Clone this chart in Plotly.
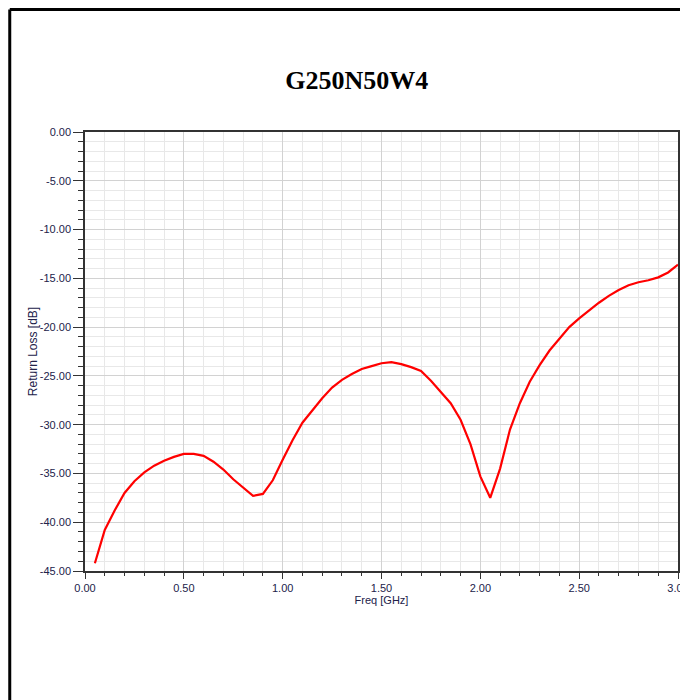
import plotly.graph_objects as go

# return loss sweep
freq = [0.05, 0.10, 0.15, 0.20, 0.25, 0.30, 0.35, 0.40, 0.45, 0.50,
        0.55, 0.60, 0.65, 0.70, 0.75, 0.80, 0.85, 0.90, 0.95, 1.00,
        1.05, 1.10, 1.15, 1.20, 1.25, 1.30, 1.35, 1.40, 1.45, 1.50,
        1.55, 1.60, 1.65, 1.70, 1.75, 1.80, 1.85, 1.90, 1.95, 2.00,
        2.05, 2.10, 2.15, 2.20, 2.25, 2.30, 2.35, 2.40, 2.45, 2.50,
        2.55, 2.60, 2.65, 2.70, 2.75, 2.80, 2.85, 2.90, 2.95, 3.00]
return_loss = [-44.2, -40.8, -38.8, -37.0, -35.8, -34.9, -34.2, -33.7, -33.3, -33.0,
               -33.0, -33.2, -33.8, -34.6, -35.6, -36.5, -37.3, -37.1, -35.7, -33.6,
               -31.6, -29.8, -28.5, -27.3, -26.2, -25.4, -24.8, -24.3, -24.0, -23.7,
               -23.6, -23.8, -24.1, -24.5, -25.5, -26.6, -27.8, -29.5, -32.0, -35.3,
               -37.5, -34.5, -30.5, -27.8, -25.6, -23.9, -22.4, -21.2, -20.0, -19.1,
               -18.3, -17.5, -16.8, -16.2, -15.7, -15.4, -15.2, -14.9, -14.4, -13.6]

x_ticks = [0.0, 0.5, 1.0, 1.5, 2.0, 2.5, 3.0]
x_labels = ["0.00", "0.50", "1.00", "1.50", "2.00", "2.50", "3.00"]
y_ticks = [0, -5, -10, -15, -20, -25, -30, -35, -40, -45]
y_labels = ["0.00", "-5.00", "-10.00", "-15.00", "-20.00", "-25.00",
            "-30.00", "-35.00", "-40.00", "-45.00"]

tick_font = dict(family="Liberation Sans, Arial", size=11, color="#22224a")

fig = go.Figure(go.Scatter(x=freq, y=return_loss, mode="lines",
                           line=dict(color="#ff0000", width=2.2), showlegend=False))

# page body adds an 8px margin, so the figure is 8px smaller than the window
fig.update_layout(
    width=680, height=692,
    paper_bgcolor="white", plot_bgcolor="white",
    margin=dict(l=77, r=8, t=124, b=129),
    title=dict(text="<b>G250N50W4</b>", x=0.513, y=0.896, xanchor="center", yanchor="middle",
               font=dict(family="Liberation Serif, Times New Roman, serif", size=26, color="black")),
    xaxis=dict(range=[0, 3], tickvals=x_ticks, ticktext=x_labels, tickfont=tick_font,
               ticklabeloverflow="allow", automargin=False,
               ticks="outside", ticklen=6, tickcolor="#333", showline=True, linecolor="#333",
               linewidth=1.5, mirror=True, showgrid=True, gridcolor="#d2d2d2", gridwidth=1,
               zeroline=False,
               minor=dict(dtick=0.1, ticks="outside", ticklen=3, tickcolor="#333",
                          showgrid=True, gridcolor="#e8e8e8"),
               title=dict(text="Freq [GHz]", standoff=2,
                          font=dict(family="Liberation Sans, Arial", size=11, color="#22224a"))),
    yaxis=dict(range=[-45, 0], tickvals=y_ticks, ticktext=y_labels, tickfont=tick_font,
               ticks="outside", ticklen=10, tickcolor="#333", showline=True, linecolor="#333",
               linewidth=1.5, mirror=True, showgrid=True, gridcolor="#d2d2d2", gridwidth=1,
               zeroline=False,
               minor=dict(dtick=1, ticks="outside", ticklen=5, tickcolor="#333",
                          showgrid=True, gridcolor="#e8e8e8"),
               title=dict(text="Return Loss [dB]", standoff=0,
                          font=dict(family="Liberation Sans, Arial", size=12, color="#22224a"))),
)

# outer frame lines (top and left edges of the page border)
fig.add_shape(type="line", xref="paper", yref="paper", x0=-0.1269, x1=1.02, y0=1.279, y1=1.279,
              line=dict(color="black", width=3))
fig.add_shape(type="line", xref="paper", yref="paper", x0=-0.1269, x1=-0.1269, y0=1.279, y1=-0.3,
              line=dict(color="black", width=3))

fig.write_html("out.html")
